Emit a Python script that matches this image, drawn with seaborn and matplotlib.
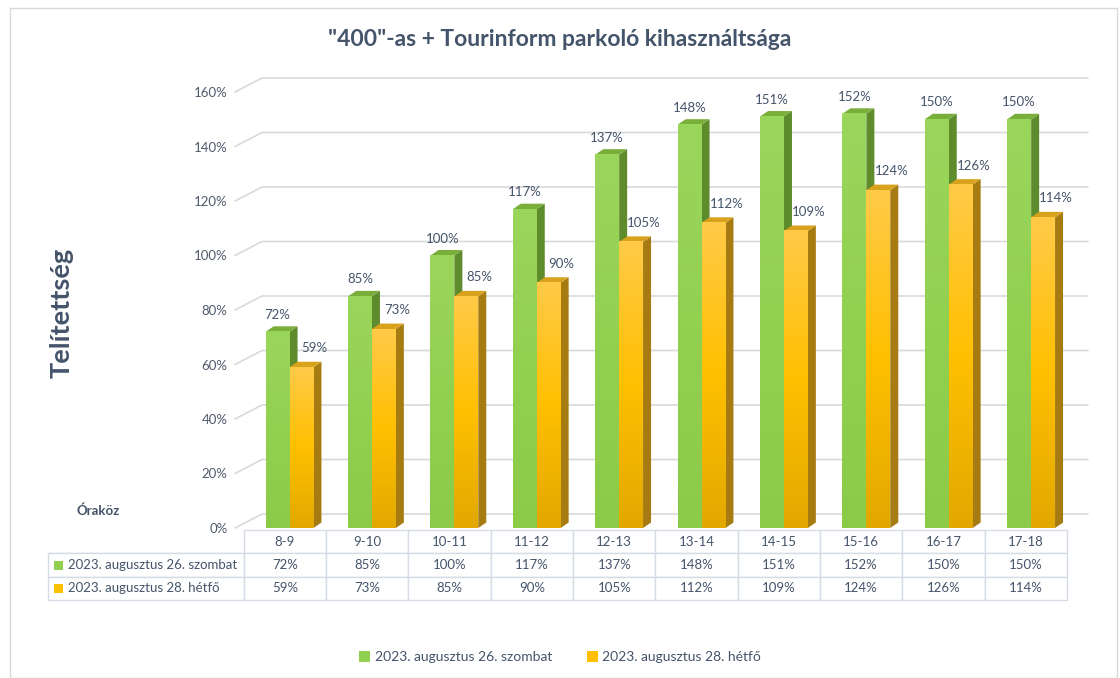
import numpy as np
import pandas as pd
import matplotlib
matplotlib.use("Agg")
import matplotlib.pyplot as plt
import seaborn as sns
from matplotlib.patches import Polygon, Rectangle, Patch
from matplotlib.colors import LinearSegmentedColormap

# data
categories = ["8-9", "9-10", "10-11", "11-12", "12-13", "13-14", "14-15", "15-16", "16-17", "17-18"]
series_names = ["2023. augusztus 26. szombat", "2023. augusztus 28. hétfő"]
saturday = [72, 85, 100, 117, 137, 148, 151, 152, 150, 150]
monday = [59, 73, 85, 90, 105, 112, 109, 124, 126, 114]
y_ticks = [0, 20, 40, 60, 80, 100, 120, 140, 160]

title = '"400"-as + Tourinform parkoló kihasználtsága'
y_label = "Telítettség"
x_label = "Óraköz"

df = pd.DataFrame({
    "Óraköz": categories * 2,
    "value": [v / 100 for v in saturday + monday],
    "series": [series_names[0]] * len(categories) + [series_names[1]] * len(categories),
})

sns.set_style("white")
plt.rcParams["font.family"] = ["Lato", "DejaVu Sans"]
txt = "#44546A"
front = {"g": "#92D050", "y": "#FFC000"}
side = {"g": "#5E8B2C", "y": "#A67C12"}
top = {"g": "#79AE3A", "y": "#D8A21C"}

W, H = 1120, 678
fig = plt.figure(figsize=(W / 100, H / 100), dpi=100)
# axes in pixel layout: x 243..1067, y(0%)=530 .. y(160%)=92
ax = fig.add_axes([243 / W, 1 - 528 / H, 824 / W, 436 / H])

sns.barplot(data=df, x="Óraköz", y="value", hue="series", hue_order=series_names,
            palette=[front["g"], front["y"]], width=0.58, saturation=1,
            dodge=True, legend=False, ax=ax, zorder=3)

px_x = 824 / 10.0      # pixels per category unit
px_y = 436 / 1.6       # pixels per data unit
bdx, bdy = 8 / px_x, 5.5 / px_y     # bar depth
gdx, gdy = 27 / px_x, 14 / px_y     # wall depth

ycmap = LinearSegmentedColormap.from_list("yg", ["#E2A800", "#FFC000", "#FFCA48"])
gcmap = LinearSegmentedColormap.from_list("gg", ["#8CCB48", "#92D050", "#9AD65C"])
grad = np.linspace(0, 1, 128).reshape(-1, 1)

patches = [p for p in ax.patches if p.get_height() > 0]
for p in patches:
    p.set_x(p.get_x() + 0.065)
    p.set_linewidth(0)
    x0 = p.get_x()
    x1 = x0 + p.get_width()
    h = p.get_height()
    key = "g" if np.allclose(p.get_facecolor()[:3], matplotlib.colors.to_rgb(front["g"])) else "y"
    ax.imshow(grad, extent=[x0, x1, 0, h], origin="lower", aspect="auto",
              cmap=ycmap if key == "y" else gcmap, zorder=3.1)
    ax.add_patch(Polygon([(x1, 0), (x1, h), (x1 + bdx, h + bdy), (x1 + bdx, bdy)],
                         closed=True, facecolor=side[key], edgecolor="none", zorder=3))
    ax.add_patch(Polygon([(x0, h), (x1, h), (x1 + bdx, h + bdy), (x0 + bdx, h + bdy)],
                         closed=True, facecolor=top[key], edgecolor="none", zorder=3))
    if key == "g":
        ax.text((x0 + x1) / 2, h + 17 / px_y, f"{round(h * 100)}%", ha="center", va="center",
                fontsize=9.5, color=txt, zorder=5)
    else:
        ax.text((x0 + x1) / 2 + 13 / px_x, h + 19 / px_y, f"{round(h * 100)}%", ha="center",
                va="center", fontsize=9.5, color=txt, zorder=5)

# back wall gridlines with a 3D offset
fx0 = (235 - 243) / px_x - 0.5
fx1 = (1088 - 243) / px_x - 0.5
for t in y_ticks:
    v = t / 100
    ax.plot([fx0, fx0 + gdx, fx1], [v, v + gdy, v + gdy], color="#D9D9D9", lw=1.2,
            zorder=1, clip_on=False)

ax.set_xlim(-0.5, 9.5)
ax.set_ylim(0, 1.6)
ax.set_yticks([t / 100 for t in y_ticks])
ax.set_yticklabels([f"{t}%" for t in y_ticks], fontsize=9.5, color="#505A6B")
ax.tick_params(axis="y", length=0, pad=11)
ax.set_xticks([])
ax.set_xlabel("")
ax.set_ylabel("")
for s in ax.spines.values():
    s.set_visible(False)

# data table under the chart
cell_text = [[series_names[0]] + [f"{v}%" for v in saturday],
             [series_names[1]] + [f"{v}%" for v in monday]]
tbl = ax.table(cellText=cell_text, colLabels=[""] + categories,
               colWidths=[196] + [82.4] * 10, cellLoc="center",
               bbox=[(48 - 243) / 824, (528 - 600) / 436, 1019 / 824, 70 / 436])
tbl.auto_set_font_size(False)
tbl.set_fontsize(9.5)
for (r, c), cell in tbl.get_celld().items():
    cell.set_edgecolor("#D6DCE5")
    cell.set_linewidth(1)
    cell.get_text().set_color(txt)
    if c == 0:
        cell.get_text().set_ha("left")
        cell._loc = "left"
        cell.PAD = 0.1
    if r == 0 and c == 0:
        cell.visible_edges = "B"
row_h = (70 / 436) / 3
for i, key in enumerate(["g", "y"]):
    yc = (528 - 600) / 436 + row_h * (1.5 - i)
    ax.add_patch(Rectangle(((54 - 243) / 824, yc - 4.5 / 436), 9 / 824, 9 / 436,
                           transform=ax.transAxes, facecolor=front[key], edgecolor="none",
                           clip_on=False, zorder=6))

# texts
fig.text(0.5, 1 - 40 / H, title, ha="center", va="center", fontsize=16.5, fontweight="bold", color=txt)
fig.text(62 / W, 1 - 313 / H, y_label, ha="center", va="center", rotation=90,
         fontsize=19.5, fontweight="bold", color=txt)
fig.text(98 / W, 1 - 511 / H, x_label, ha="center", va="center", fontsize=9.5,
         fontweight="bold", color=txt)

handles = [Patch(facecolor=front["g"], edgecolor="none"), Patch(facecolor=front["y"], edgecolor="none")]
fig.legend(handles, series_names, loc="center", bbox_to_anchor=(0.5, 1 - 657 / H), ncol=2,
           frameon=False, fontsize=10, handlelength=0.8, handleheight=0.8, handletextpad=0.3,
           columnspacing=2.5, labelcolor=txt)

fig.add_artist(Rectangle((10 / W, 0), 1107 / W, 1 - 8 / H, transform=fig.transFigure,
                         facecolor="none", edgecolor="#D9D9D9", lw=1))

fig.savefig("out.png", dpi=100)
